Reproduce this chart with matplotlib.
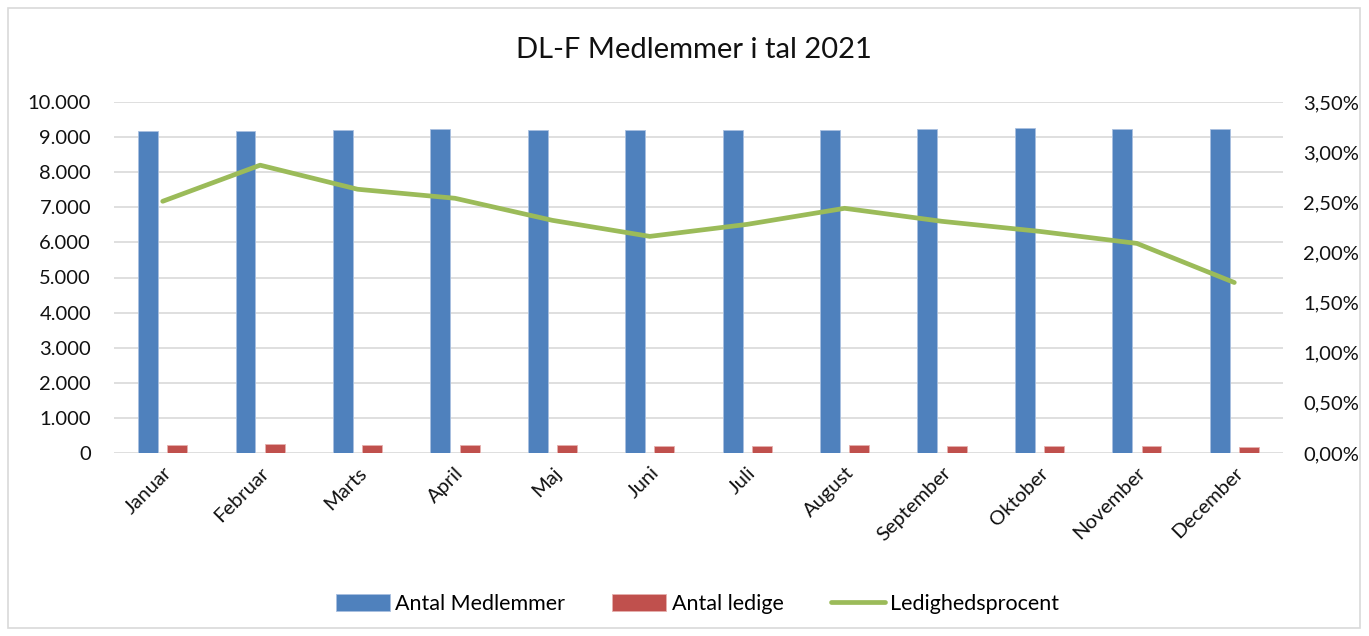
import matplotlib
matplotlib.use("Agg")
import matplotlib.pyplot as plt
import numpy as np
from matplotlib.ticker import FuncFormatter, MultipleLocator
from matplotlib.patches import Rectangle

months = ["Januar", "Februar", "Marts", "April", "Maj", "Juni", "Juli",
          "August", "September", "Oktober", "November", "December"]
medlemmer = [9160, 9160, 9200, 9235, 9215, 9215, 9200, 9200, 9235, 9255, 9235, 9235]
ledige = [230, 263, 242, 235, 214, 199, 210, 224, 213, 205, 193, 157]
procent = [2.51, 2.87, 2.63, 2.54, 2.32, 2.16, 2.28, 2.44, 2.31, 2.21, 2.09, 1.70]

plt.rcParams['font.family'] = ['Lato', 'DejaVu Sans']

fig = plt.figure(figsize=(13.69, 6.36), dpi=100)
fig.patches.append(Rectangle((8/1369, 8/636), 1352/1369, 620/636, transform=fig.transFigure,
                             fill=False, edgecolor='#d9d9d9', linewidth=1.2))
ax = fig.add_axes([114/1369, (636-453)/636, 1169/1369, 351/636])
ax2 = ax.twinx()

x = np.arange(len(months))
w = 0.205
b1 = ax.bar(x - 0.15, medlemmer, w, color='#4F81BD', edgecolor='#a9c0e0', linewidth=0.6,
            label='Antal Medlemmer', zorder=3)
b2 = ax.bar(x + 0.15, ledige, w, color='#C0504D', edgecolor='#e6b0ae', linewidth=0.6,
            label='Antal ledige', zorder=3)
l1, = ax2.plot(x, procent, color='#9BBB59', linewidth=3.4, label='Ledighedsprocent',
               solid_capstyle='round', zorder=4)

ax.set_xlim(-0.5, 11.5)
ax.set_ylim(0, 10000)
ax2.set_ylim(0, 3.5)
ax.yaxis.set_major_locator(MultipleLocator(1000))
ax2.yaxis.set_major_locator(MultipleLocator(0.5))
ax.yaxis.set_major_formatter(FuncFormatter(lambda v, p: f"{int(v):,}".replace(",", ".")))
ax2.yaxis.set_major_formatter(FuncFormatter(lambda v, p: f"{v:.2f}%".replace(".", ",")))

ax.grid(axis='y', color='#d9d9d9', linewidth=1.2, zorder=0)
ax.set_axisbelow(True)
for a in (ax, ax2):
    for s in a.spines.values():
        s.set_visible(False)
    a.tick_params(length=0, labelsize=14.5, colors='#111111')
ax.tick_params(axis='y', pad=16.5)
ax2.tick_params(axis='y', pad=14.5)

ax.set_xticks(x)
ax.set_xticklabels(months, rotation=45, ha='right', rotation_mode='anchor')
ax.tick_params(axis='x', pad=8, labelsize=14.5)

fig.text(694/1369, 1 - 50/636, "DL-F Medlemmer i tal 2021", ha='center', va='center',
         fontsize=21, color='#111111')

fig.legend(handles=[b1, b2, l1], loc='center', bbox_to_anchor=(697.5/1369, 1 - 604/636), ncol=3,
           frameon=False, fontsize=15.5, handlelength=2.5, handleheight=0.8,
           columnspacing=2.2, handletextpad=0.25)

fig.savefig("out.png", dpi=100)
